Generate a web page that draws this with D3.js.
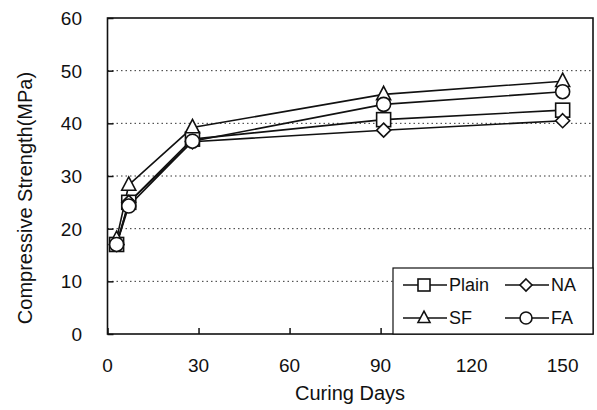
<!DOCTYPE html>
<html>
<head>
<meta charset="utf-8">
<script src="https://cdn.jsdelivr.net/npm/d3@7"></script>
<style>
  html, body { margin: 0; padding: 0; background: #fff; }
  svg { display: block; }
  text { font-family: "Liberation Sans", Arial, sans-serif; fill: #111; }
</style>
</head>
<body>
<svg id="chart" width="597" height="410"></svg>
<script>
// Curing age (days) and compressive strength (MPa) of each mix
const days = [3, 7, 28, 91, 150];
const plain = [17, 25, 37, 40.7, 42.5];
const na = [17, 25, 36.5, 38.7, 40.5];
const sf = [18, 28.3, 39.2, 45.5, 48];
const fa = [17, 24.3, 36.6, 43.6, 46];

const seriesNames = ["Plain", "NA", "SF", "FA"];
const seriesValues = [plain, na, sf, fa];
const seriesSymbols = ["square", "diamond", "triangle", "circle"];

const xTicks = [0, 30, 60, 90, 120, 150];
const yTicks = [0, 10, 20, 30, 40, 50, 60];

const svg = d3.select("#chart");
const plotL = 107.5, plotR = 593, plotT = 18, plotB = 334;

const x = d3.scaleLinear().domain([0, 160]).range([plotL, plotR]);
const y = d3.scaleLinear().domain([0, 60]).range([plotB, plotT]);

// dotted horizontal grid lines
svg.append("g")
  .selectAll("line")
  .data(yTicks.filter(t => t > 0 && t < 60))
  .join("line")
  .attr("x1", plotL).attr("x2", plotR)
  .attr("y1", d => y(d)).attr("y2", d => y(d))
  .attr("stroke", "#333")
  .attr("stroke-width", 1)
  .attr("stroke-dasharray", "1.5,3");

// axes with inward ticks
const yAxis = svg.append("g")
  .attr("transform", `translate(${plotL},0)`)
  .call(d3.axisRight(y).tickValues(yTicks).tickSize(6).tickFormat(""));
yAxis.select(".domain").remove();
yAxis.selectAll("line").attr("stroke", "#111").attr("stroke-width", 1.5);

const xAxis = svg.append("g")
  .attr("transform", `translate(0,${plotB})`)
  .call(d3.axisTop(x).tickValues(xTicks).tickSize(6).tickFormat(""));
xAxis.select(".domain").remove();
xAxis.selectAll("line").attr("stroke", "#111").attr("stroke-width", 1.5);

// tick labels
svg.append("g").selectAll("text")
  .data(yTicks).join("text")
  .attr("x", 82).attr("y", d => y(d))
  .attr("dy", "0.36em")
  .attr("text-anchor", "end")
  .attr("font-size", 19)
  .text(d => d);

svg.append("g").selectAll("text")
  .data(xTicks).join("text")
  .attr("x", d => x(d)).attr("y", 372)
  .attr("text-anchor", "middle")
  .attr("font-size", 19)
  .text(d => d);

// axis titles
svg.append("text")
  .attr("x", 350).attr("y", 400)
  .attr("text-anchor", "middle")
  .attr("font-size", 20)
  .text("Curing Days");

svg.append("text")
  .attr("transform", "translate(32,198) rotate(-90)")
  .attr("text-anchor", "middle")
  .attr("font-size", 20)
  .text("Compressive Strength(MPa)");

// marker shapes
function drawMarker(g, type, cx, cy, s) {
  const h = s / 2;
  let el;
  if (type === "square") {
    el = g.append("rect").attr("x", cx - h).attr("y", cy - h).attr("width", s).attr("height", s);
  } else if (type === "circle") {
    el = g.append("circle").attr("cx", cx).attr("cy", cy).attr("r", h);
  } else if (type === "triangle") {
    el = g.append("path").attr("d", `M${cx},${cy - h * 1.15}L${cx + h},${cy + h * 0.75}L${cx - h},${cy + h * 0.75}Z`);
  } else {
    el = g.append("path").attr("d", `M${cx},${cy - h}L${cx + h},${cy}L${cx},${cy + h}L${cx - h},${cy}Z`);
  }
  el.attr("fill", "#fff").attr("stroke", "#111").attr("stroke-width", 1.6);
}

const line = d3.line().x((d, i) => x(days[i])).y(d => y(d));

// series lines first, then markers on top
seriesValues.forEach(vals => {
  svg.append("path")
    .datum(vals)
    .attr("d", line)
    .attr("fill", "none")
    .attr("stroke", "#111")
    .attr("stroke-width", 1.6);
});
seriesValues.forEach((vals, k) => {
  const g = svg.append("g");
  vals.forEach((v, i) => drawMarker(g, seriesSymbols[k], x(days[i]), y(v), 14));
});

// plot frame
svg.append("rect")
  .attr("x", plotL).attr("y", plotT)
  .attr("width", plotR - plotL).attr("height", plotB - plotT)
  .attr("fill", "none").attr("stroke", "#111").attr("stroke-width", 1.6);

// legend
const lg = svg.append("g");
lg.append("rect")
  .attr("x", 393).attr("y", 268)
  .attr("width", plotR - 393).attr("height", plotB - 268)
  .attr("fill", "#fff").attr("stroke", "#111").attr("stroke-width", 1.2);

const legendPos = [
  { name: "Plain", sym: "square", x: 403, y: 285 },
  { name: "NA", sym: "diamond", x: 505, y: 285 },
  { name: "SF", sym: "triangle", x: 403, y: 318 },
  { name: "FA", sym: "circle", x: 505, y: 318 }
];
legendPos.forEach(p => {
  lg.append("line")
    .attr("x1", p.x).attr("x2", p.x + 44)
    .attr("y1", p.y).attr("y2", p.y)
    .attr("stroke", "#111").attr("stroke-width", 1.4);
  drawMarker(lg, p.sym, p.x + 21, p.y, 12);
  lg.append("text")
    .attr("x", p.x + 46).attr("y", p.y)
    .attr("dy", "0.36em")
    .attr("font-size", 18)
    .text(p.name);
});
</script>
</body>
</html>
